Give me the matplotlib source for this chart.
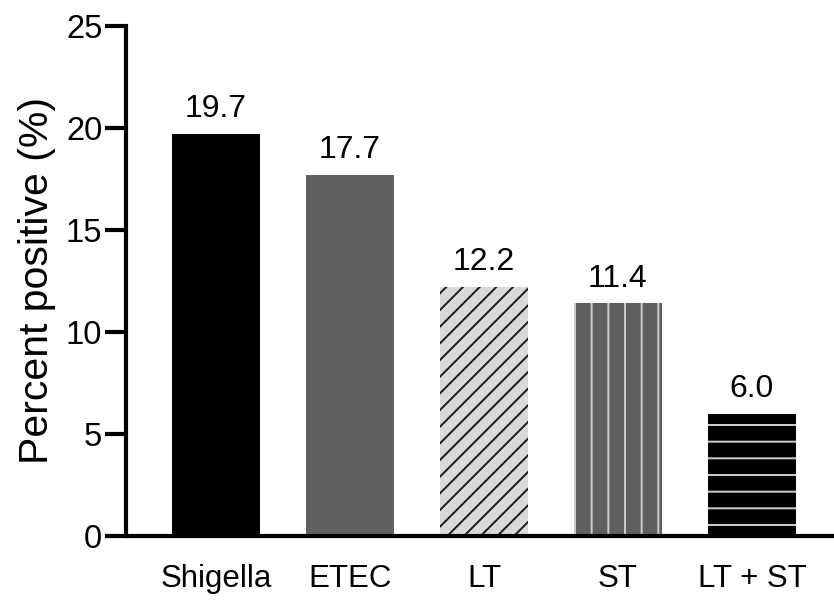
import matplotlib
matplotlib.use("Agg")
import matplotlib.pyplot as plt

categories = ["Shigella", "ETEC", "LT", "ST", "LT + ST"]
values = [19.7, 17.7, 12.2, 11.4, 6.0]
labels = ["19.7", "17.7", "12.2", "11.4", "6.0"]
yticks = [0, 5, 10, 15, 20, 25]

plt.rcParams['font.family'] = ['Liberation Sans', 'DejaVu Sans']
plt.rcParams['hatch.linewidth'] = 1.4

fig = plt.figure(figsize=(8.34, 6), dpi=100)
ax = fig.add_axes([0.151, 0.1067, 0.849, 0.85])

fills = ["#000000", "#5f5f5f", "#d9d9d9", "#5f5f5f", "#000000"]
hatch_cols = ["#000000", "#5f5f5f", "#1a1a1a", "#d0d0d0", "#d0d0d0"]
hatches = [None, None, "//", "|", "-"]

x = list(range(len(categories)))
for i in x:
    ax.bar(i, values[i], width=0.66, color=fills[i], edgecolor=hatch_cols[i],
           linewidth=0, hatch=hatches[i], zorder=2)
    ax.annotate(labels[i], (i, values[i]), xytext=(0, 7), textcoords="offset points",
                ha="center", va="bottom", fontsize=23)

ax.set_xlim(-0.672, 4.612)
ax.set_ylim(0, 25)
ax.set_yticks(yticks)
ax.set_yticklabels([str(t) for t in yticks], fontsize=23.5)
ax.set_xticks(x)
ax.set_xticklabels(categories, fontsize=22.5)
ax.tick_params(axis='x', length=0, pad=20)
ax.tick_params(axis='y', length=15, width=3, pad=2)
for s in ["top", "right"]:
    ax.spines[s].set_visible(False)
for s in ["left", "bottom"]:
    ax.spines[s].set_linewidth(3)
ax.spines['bottom'].set_zorder(3)
ax.set_ylabel("Percent positive (%)", fontsize=29.5, labelpad=7)

fig.savefig("out.png", dpi=100)
